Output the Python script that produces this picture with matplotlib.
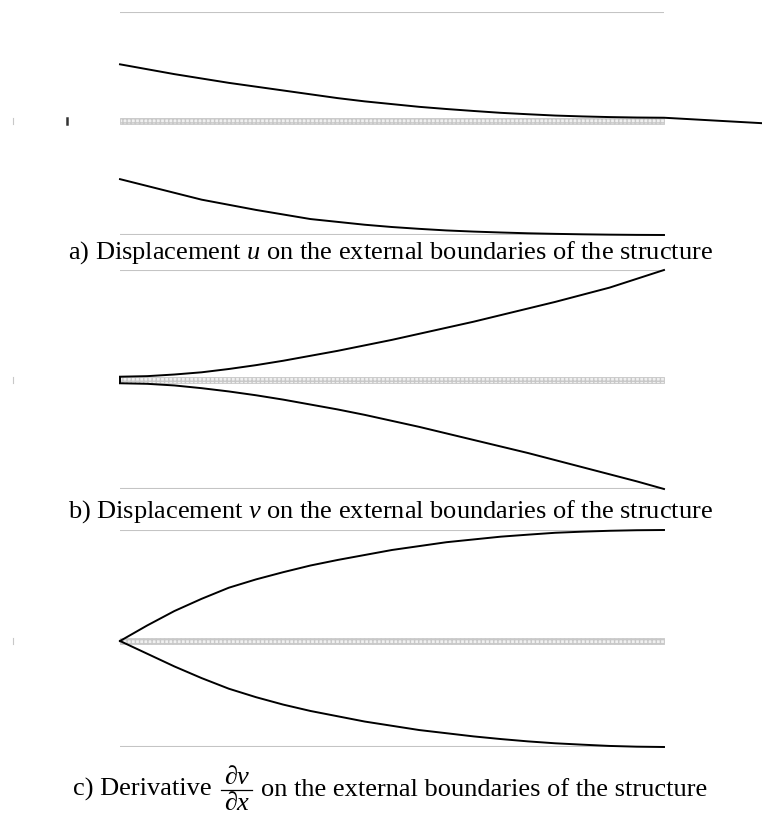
import matplotlib
matplotlib.use("Agg")
import matplotlib.pyplot as plt
from matplotlib.patches import Rectangle

plt.rcParams['font.family'] = ['Liberation Serif', 'DejaVu Serif']
plt.rcParams['mathtext.fontset'] = 'custom'
plt.rcParams['mathtext.rm'] = 'Liberation Serif'
plt.rcParams['mathtext.it'] = 'Liberation Serif:italic'

# x along the structure (0 = left end, 1 = right end), y relative to the
# middle layer (0) and the outer boundaries (+1 / -1)
xs = [0, 0.05, 0.1, 0.15, 0.2, 0.25, 0.3, 0.35, 0.4, 0.45, 0.5,
      0.55, 0.6, 0.65, 0.7, 0.75, 0.8, 0.85, 0.9, 0.95, 1.0]

# a) displacement u (upper boundary runs past the right end)
x_a_up = xs + [1.18]
y_a_up = [0.52, 0.475, 0.43, 0.39, 0.35, 0.315, 0.28, 0.245, 0.21, 0.18, 0.155,
          0.13, 0.11, 0.092, 0.075, 0.062, 0.05, 0.042, 0.036, 0.032, 0.03, -0.02]
y_a_lo = [-0.51, -0.57, -0.63, -0.69, -0.735, -0.78, -0.82, -0.86, -0.885, -0.91, -0.93,
          -0.946, -0.96, -0.97, -0.978, -0.985, -0.99, -0.994, -0.997, -0.999, -1.0]

# b) displacement v
y_b_up = [0.03, 0.035, 0.05, 0.07, 0.1, 0.135, 0.175, 0.22, 0.265, 0.315, 0.365,
          0.42, 0.475, 0.53, 0.59, 0.65, 0.71, 0.775, 0.84, 0.92, 1.0]
y_b_lo = [-0.03, -0.035, -0.05, -0.075, -0.105, -0.14, -0.18, -0.225, -0.27, -0.32, -0.375,
          -0.43, -0.49, -0.55, -0.61, -0.67, -0.735, -0.8, -0.865, -0.93, -1.0]

# c) derivative dv/dx
y_c_up = [0, 0.14, 0.27, 0.38, 0.48, 0.555, 0.62, 0.68, 0.73, 0.775, 0.82,
          0.855, 0.89, 0.915, 0.94, 0.958, 0.975, 0.985, 0.993, 0.998, 1.0]
y_c_lo = [0, -0.12, -0.24, -0.35, -0.45, -0.53, -0.6, -0.66, -0.71, -0.76, -0.8,
          -0.84, -0.87, -0.9, -0.925, -0.947, -0.965, -0.978, -0.99, -0.997, -1.0]

captions = [
    r"a) Displacement $u$ on the external boundaries of the structure",
    r"b) Displacement $v$ on the external boundaries of the structure",
]
cap_c_left = "c) Derivative"
cap_c_num = "\u2202v"
cap_c_den = "\u2202x"
cap_c_right = "on the external boundaries of the structure"

W, H = 762, 817
fig = plt.figure(figsize=(W / 100, H / 100), dpi=100)
FS = 19

x0, x1 = 120, 664          # pixel span of the structure
L = x1 - x0


def half(top, bottom, ylim):
    ax = fig.add_axes([0, 1 - bottom / H, 1, (bottom - top) / H])
    ax.set_xlim(-x0 / L, (W - x0) / L)
    ax.set_ylim(*ylim)
    ax.axis('off')
    return ax


def panel(top, mid, bottom):
    # upper half: outer boundary at +1, middle layer at 0; lower half mirrored
    up = half(top, mid, (0, 1))
    lo = half(mid, bottom, (-1, 0))
    up.plot([0, 1], [1, 1], color='#c4c4c4', lw=1.5, solid_capstyle='butt')
    lo.plot([0, 1], [-1, -1], color='#c4c4c4', lw=1.5, solid_capstyle='butt')
    up.add_patch(Rectangle((0, -0.03), 1, 0.06, facecolor='#f0f0f0',
                           edgecolor='#c8c8c8', hatch='++++', lw=0.6, clip_on=False))
    up.plot([-0.197, -0.197], [-0.025, 0.025], color='#c8c8c8', lw=0.8, clip_on=False)
    return up, lo


a_up, a_lo = panel(12, 121, 235)
a_up.plot(x_a_up, y_a_up, color='black', lw=1.4, clip_on=False)
a_lo.plot(xs, y_a_lo, color='black', lw=1.4, clip_on=False)
a_up.plot([-0.097, -0.097], [-0.025, 0.025], color='#333333', lw=1.8, clip_on=False)

b_up, b_lo = panel(270, 380, 489)
b_up.plot(xs, y_b_up, color='black', lw=1.4, clip_on=False)
b_lo.plot(xs, y_b_lo, color='black', lw=1.4, clip_on=False)
b_up.plot([0, 0], [-0.03, 0.03], color='black', lw=1.4, clip_on=False)

c_up, c_lo = panel(530, 641, 747)
c_up.plot(xs, y_c_up, color='black', lw=1.4, clip_on=False)
c_lo.plot(xs, y_c_lo, color='black', lw=1.4, clip_on=False)

for cap, y in zip(captions, [259, 518]):
    fig.text(390 / W, 1 - y / H, cap, ha='center', va='baseline', fontsize=FS)

# caption c with a stacked fraction, laid out by measuring the pieces
r = fig.canvas.get_renderer()
base = 1 - 796 / H
t_left = fig.text(0, base, cap_c_left, fontsize=FS, va='baseline')
t_right = fig.text(0, base, cap_c_right, fontsize=FS, va='baseline')
t_num = fig.text(0, 1 - 784 / H, cap_c_num, fontsize=FS, style='italic',
                 ha='center', va='baseline')
t_den = fig.text(0, 1 - 810 / H, cap_c_den, fontsize=FS, style='italic',
                 ha='center', va='baseline')
w_left = t_left.get_window_extent(r).width
w_right = t_right.get_window_extent(r).width
w_frac = max(t_num.get_window_extent(r).width, t_den.get_window_extent(r).width) + 6
gap = 9
total = w_left + gap + w_frac + gap + w_right
start = 390 - total / 2
t_left.set_x(start / W)
fc = start + w_left + gap + w_frac / 2
t_num.set_x(fc / W)
t_den.set_x(fc / W)
t_right.set_x((start + w_left + 2 * gap + w_frac) / W)
fig.add_artist(plt.Line2D([(fc - w_frac / 2) / W, (fc + w_frac / 2) / W],
                          [1 - 790 / H, 1 - 790 / H], color='black', lw=0.9))

fig.savefig('out.png', dpi=100)
